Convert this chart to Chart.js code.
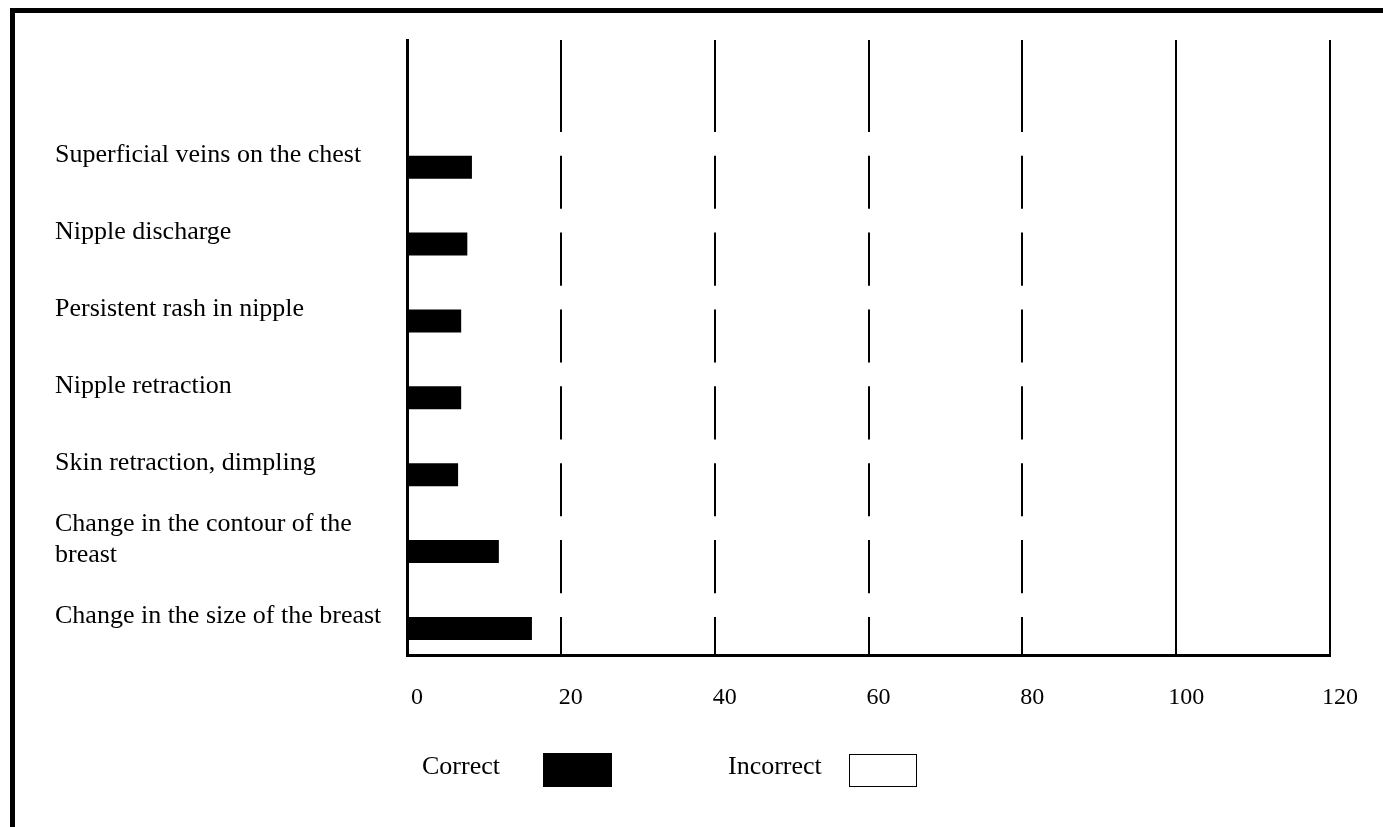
<!DOCTYPE html>
<html>
<head>
<meta charset="utf-8">
<script src="https://cdn.jsdelivr.net/npm/chart.js@4"></script>
<style>
  body { margin: 0; background: #fff; overflow: hidden; }
  #wrap { position: relative; width: 1383px; height: 827px; }
  #frame {
    position: absolute; left: 10px; top: 8px; width: 1400px; height: 840px;
    border-top: 5px solid #000; border-left: 5px solid #000; pointer-events: none;
  }
  .legend-text {
    position: absolute; font-family: "Liberation Serif", "Times New Roman", serif;
    font-size: 26px; line-height: 34px; color: #000; white-space: nowrap;
  }
  .legend-box { position: absolute; box-sizing: border-box; }
</style>
</head>
<body>
<div id="wrap">
  <canvas id="bar-chart"></canvas>
  <div id="frame"></div>
  <span class="legend-text" style="left:422px; top:749px;">Correct</span>
  <div class="legend-box" style="left:543px; top:753px; width:69px; height:34px; background:#000;"></div>
  <span class="legend-text" style="left:728px; top:749px;">Incorrect</span>
  <div class="legend-box" style="left:849px; top:754px; width:68px; height:33px; background:#fff; border:1.5px solid #000;"></div>
</div>
<script>
// categories top to bottom (first slot left empty, as in the figure)
const labels = [
  "",
  "Superficial veins on the chest",
  "Nipple discharge",
  "Persistent rash in nipple",
  "Nipple retraction",
  "Skin retraction, dimpling",
  ["Change in the contour of the", "breast"],
  "Change in the size of the breast",
];

const correct = [null, 8.4, 7.8, 7.0, 7.0, 6.6, 11.9, 16.2];
const incorrect = [null, 91.6, 92.2, 93.0, 93.0, 93.4, 88.1, 83.8];

const xTicks = [0, 20, 40, 60, 80, 100, 120];

const serif = "'Liberation Serif', 'Times New Roman', serif";

const bar_data = {
  labels: labels,
  datasets: [
    {
      label: "Incorrect",
      backgroundColor: "#ffffff",
      borderWidth: 0,
      barThickness: 23,
      data: incorrect,
    },
    {
      label: "Correct",
      backgroundColor: "#000000",
      borderWidth: 0,
      barThickness: 23,
      data: correct,
    },
  ],
};

const bar_config = {
  type: "bar",
  data: bar_data,
  options: {
    indexAxis: "y",
    responsive: true,
    maintainAspectRatio: false,
    animation: false,
    layout: {
      padding: { left: 55, right: 53, top: 40, bottom: 0 },
    },
    plugins: {
      legend: { display: false },
      tooltip: { enabled: false },
    },
    scales: {
      x: {
        min: 0,
        max: 120,
        afterBuildTicks: (scale) => {
          scale.ticks = xTicks.map((v) => ({ value: v }));
        },
        afterFit: (scale) => {
          scale.height = 172;
        },
        grid: {
          color: "#000",
          lineWidth: 2,
          drawTicks: false,
        },
        border: { color: "#000", width: 3 },
        ticks: {
          color: "#000",
          padding: 28,
          labelOffset: 10,
          font: { family: serif, size: 24 },
        },
      },
      y: {
        afterFit: (scale) => {
          scale.width = 352;
        },
        grid: { display: false, drawTicks: false },
        // drawn over the white bars so the axis stays unbroken
        border: { color: "#000", width: 3, z: 1 },
        ticks: {
          color: "#000",
          crossAlign: "far",
          padding: 0,
          font: { family: serif, size: 26, lineHeight: 1.2 },
        },
      },
    },
  },
};

const ctx = document.getElementById("bar-chart").getContext("2d");
const barChart = new Chart(ctx, bar_config);
</script>
</body>
</html>
